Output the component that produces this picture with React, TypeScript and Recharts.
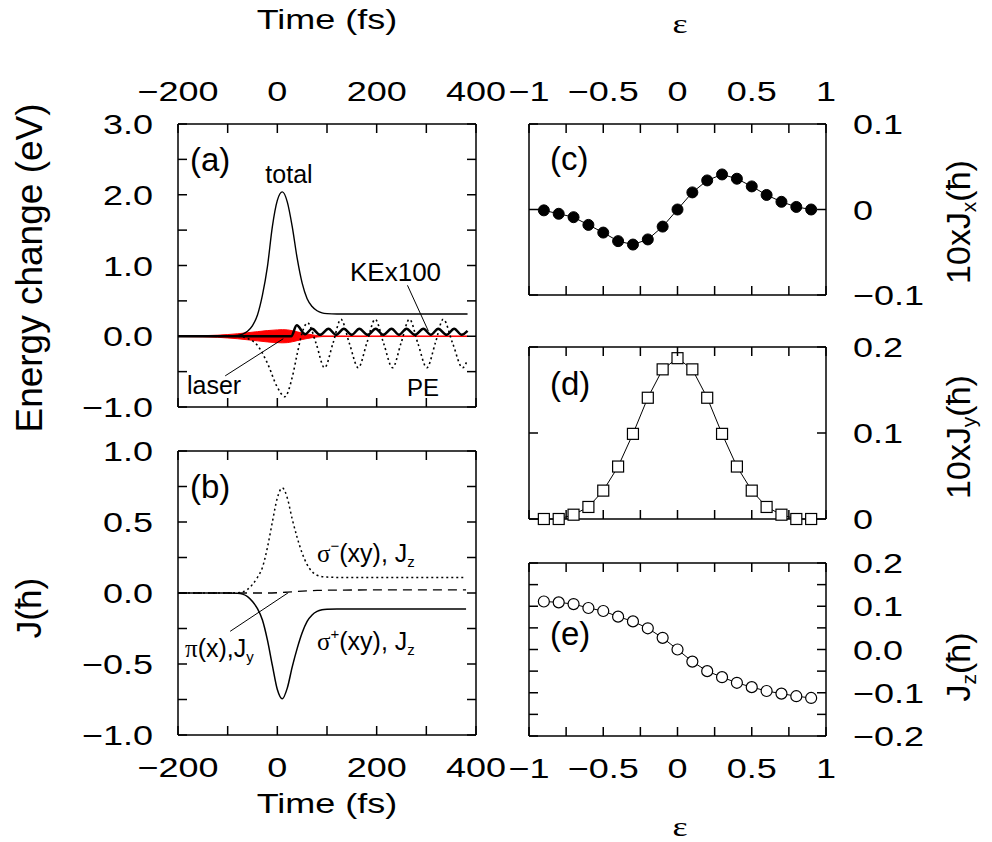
import React from "react"
import { ComposedChart, Line, Area, XAxis, YAxis, ReferenceLine } from "recharts"

const W = 992
const H = 842
const SANS = "'Liberation Sans', Arial, Helvetica, sans-serif"
const SERIF = "'Liberation Serif', 'Times New Roman', serif"
const AXIS = { stroke: "#000", strokeWidth: 1.5 }
const TICK = 9

// ---- panel (a): energy change vs time (fs)
const totalTime = [-200, -100, -80, -70, -60, -50, -40, -30, -20, -10, 0, 10, 20, 30, 40, 50, 60, 70, 80, 90, 100, 120, 150, 250, 383]
const totalE = [0, 0, 0.01, 0.03, 0.07, 0.15, 0.3, 0.58, 0.98, 1.55, 1.92, 2.04, 1.9, 1.55, 1.1, 0.75, 0.53, 0.42, 0.36, 0.33, 0.32, 0.315, 0.315, 0.315, 0.315]

const peTime = [-200, -80, -60, -40, -20, 0, 15, 30, 40, 50, 61, 78, 95, 112, 128, 145, 163, 180, 197, 214, 232, 249, 266, 283, 301, 318, 334, 353, 373, 383]
const peE = [0, 0, -0.03, -0.13, -0.38, -0.72, -0.855, -0.58, -0.25, 0.05, 0.19, -0.1, -0.445, -0.1, 0.24, -0.1, -0.445, -0.1, 0.24, -0.1, -0.445, -0.1, 0.24, -0.1, -0.445, -0.1, 0.24, -0.1, -0.445, -0.33]

const keTime = [-200, 0, 28, 39, 56, 70, 86, 103, 118, 134, 150, 165, 182, 198, 213, 230, 245, 260, 277, 294, 309, 324, 341, 356, 371, 383]
const keE = [0, 0, 0, 0.155, 0.03, 0.105, 0.02, 0.105, 0.02, 0.105, 0.02, 0.105, 0.02, 0.105, 0.02, 0.105, 0.02, 0.105, 0.02, 0.105, 0.02, 0.105, 0.02, 0.105, 0.02, 0.075]

// laser field drawn as its envelope (+/-)
const laserTime = [-200, -150, -120, -100, -80, -60, -40, -20, 0, 10, 20, 30, 40, 50, 60, 70, 80, 90, 100, 383]
const laserAmp = [0.004, 0.008, 0.015, 0.024, 0.035, 0.05, 0.065, 0.08, 0.09, 0.093, 0.09, 0.078, 0.062, 0.046, 0.032, 0.02, 0.01, 0.005, 0.004, 0.004]

// ---- panel (b): angular momentum vs time
const bTime = [-200, -100, -80, -70, -60, -50, -40, -30, -20, -10, 0, 10, 20, 30, 40, 50, 60, 70, 80, 90, 100, 120, 150, 250, 380]
const sigmaMinus = [0, 0, 0.002, 0.008, 0.025, 0.06, 0.11, 0.18, 0.32, 0.5, 0.67, 0.74, 0.67, 0.52, 0.39, 0.28, 0.2, 0.15, 0.125, 0.115, 0.112, 0.11, 0.11, 0.11, 0.11]
const sigmaPlus = [0, 0, -0.002, -0.008, -0.025, -0.06, -0.11, -0.19, -0.33, -0.51, -0.68, -0.745, -0.67, -0.52, -0.39, -0.28, -0.2, -0.155, -0.13, -0.118, -0.114, -0.112, -0.112, -0.112, -0.112]
const piTime = [-200, -20, 0, 20, 40, 60, 80, 100, 150, 250, 380]
const piJ = [0, 0, 0.002, 0.006, 0.011, 0.015, 0.018, 0.02, 0.021, 0.022, 0.022]

// ---- panels (c)-(e): vs epsilon
const eps = [-0.9, -0.8, -0.7, -0.6, -0.5, -0.4, -0.3, -0.2, -0.1, 0, 0.1, 0.2, 0.3, 0.4, 0.5, 0.6, 0.7, 0.8, 0.9]
const jx = [-0.001, -0.005, -0.009, -0.018, -0.027, -0.037, -0.041, -0.035, -0.02, 0, 0.02, 0.034, 0.041, 0.036, 0.027, 0.017, 0.009, 0.003, 0]
const jy = [0, 0, 0.005, 0.014, 0.033, 0.061, 0.099, 0.141, 0.174, 0.187, 0.174, 0.141, 0.099, 0.061, 0.033, 0.014, 0.005, 0, 0]
const jz = [0.111, 0.109, 0.105, 0.096, 0.089, 0.076, 0.065, 0.049, 0.027, 0, -0.028, -0.05, -0.064, -0.077, -0.087, -0.096, -0.102, -0.108, -0.112]

// ---- ticks and labels
const timeTicks = [-200, -100, 0, 100, 200, 300, 400]
const timeLabels: Record<string, string> = { "-200": "−200", "0": "0", "200": "200", "400": "400" }
const epsTicks = [-1, -0.75, -0.5, -0.25, 0, 0.25, 0.5, 0.75, 1]
const epsLabels: Record<string, string> = { "-1": "−1", "-0.5": "−0.5", "0": "0", "0.5": "0.5", "1": "1" }
const aTicks = [-1, -0.5, 0, 0.5, 1, 1.5, 2, 2.5, 3]
const aLabels: Record<string, string> = { "3": "3.0", "2": "2.0", "1": "1.0", "0": "0.0", "-1": "−1.0" }
const bTicks = [-1, -0.75, -0.5, -0.25, 0, 0.25, 0.5, 0.75, 1]
const bLabels: Record<string, string> = { "1": "1.0", "0.5": "0.5", "0": "0.0", "-0.5": "−0.5", "-1": "−1.0" }
const cTicks = [-0.1, 0, 0.1]
const cLabels: Record<string, string> = { "0.1": "0.1", "0": "0", "-0.1": "−0.1" }
const dTicks = [0, 0.1, 0.2]
const dLabels: Record<string, string> = { "0.2": "0.2", "0.1": "0.1", "0": "0" }
const eTicks = [-0.2, -0.15, -0.1, -0.05, 0, 0.05, 0.1, 0.15, 0.2]
const eLabels: Record<string, string> = { "0.2": "0.2", "0.1": "0.1", "0": "0.0", "-0.1": "−0.1", "-0.2": "−0.2" }
const none: Record<string, string> = {}

const rows = (xs: number[], ys: any[]) => xs.map((x, i) => ({ x, v: ys[i] }))

// which side a tick belongs to, from the anchors recharts hands the tick
function sideOf(p: any) {
  if (p.textAnchor === "end") return "left"
  if (p.textAnchor === "start") return "right"
  return p.verticalAnchor === "end" ? "top" : "bottom"
}

// inward tick marks, labels outside the frame
function tickRenderer(labels: any) {
  return (p: any) => {
    const { x, y, payload } = p
    const side = sideOf(p)
    const lab = labels[side][String(payload.value)]
    let x2 = x, y2 = y
    if (side === "bottom") y2 = y - TICK
    if (side === "top") y2 = y + TICK
    if (side === "left") x2 = x + TICK
    if (side === "right") x2 = x - TICK
    let tx = x, ty = y, anchor = "middle"
    if (side === "bottom") ty = y + 42
    if (side === "top") ty = y - 23
    if (side === "left") { tx = x - 25; ty = y + 10; anchor = "end" }
    if (side === "right") { tx = x + 27; ty = y + 10; anchor = "start" }
    return (
      <g>
        <line x1={x} y1={y} x2={x2} y2={y2} stroke="#000" strokeWidth={1.5} />
        {lab ? (
          <text transform={`translate(${tx},${ty}) scale(1,0.78)`} textAnchor={anchor} fontSize={36} fontFamily={SANS} fill="#000">
            {lab}
          </text>
        ) : null}
      </g>
    )
  }
}

// each panel is a full-page chart whose margins put the plot box in place;
// `ghost` is an invisible copy of one series bound to the top/right axes so they get ticks
function Panel(props: any) {
  const [L, T, R, B] = props.box
  const tick = tickRenderer({ top: props.xTop, bottom: props.xBottom, left: props.yLeft, right: props.yRight })
  return (
    <div style={{ position: "absolute", left: 0, top: 0 }}>
      <ComposedChart width={W} height={H} margin={{ top: T - 1, left: L - 1, right: W - R - 1, bottom: H - B - 1 }}>
        <XAxis xAxisId="b" orientation="bottom" type="number" dataKey="x" domain={props.xDomain} ticks={props.xTicks}
          interval={0} height={1} tickSize={0} tickMargin={0} tickLine={false} axisLine={AXIS} tick={tick} />
        <XAxis xAxisId="t" orientation="top" type="number" dataKey="x" domain={props.xDomain} ticks={props.xTicks}
          interval={0} height={1} tickSize={0} tickMargin={0} tickLine={false} axisLine={AXIS} tick={tick} />
        <YAxis yAxisId="l" orientation="left" type="number" domain={props.yDomain} ticks={props.yTicks}
          interval={0} width={1} tickSize={0} tickMargin={0} tickLine={false} axisLine={AXIS} tick={tick} />
        <YAxis yAxisId="r" orientation="right" type="number" domain={props.yDomain} ticks={props.yTicks}
          interval={0} width={1} tickSize={0} tickMargin={0} tickLine={false} axisLine={AXIS} tick={tick} />
        <Line xAxisId="t" yAxisId="r" data={props.ghost} dataKey="v" stroke="none" dot={false} activeDot={false} isAnimationActive={false} />
        {props.series}
      </ComposedChart>
    </div>
  )
}

const ax = { xAxisId: "b", yAxisId: "l" }

const squareDot = (p: any) => (
  <rect key={`sq-${p.index}`} x={p.cx - 5.5} y={p.cy - 5.5} width={11} height={11} fill="#fff" stroke="#000" strokeWidth={1.2} />
)

function Sq({ x, y, anchor = "middle", size = 36, family = SANS, children }: any) {
  return (
    <text transform={`translate(${x},${y}) scale(1,0.78)`} textAnchor={anchor} fontSize={size} fontFamily={family} fill="#000">
      {children}
    </text>
  )
}

function VText({ x, y, size, children }: any) {
  return (
    <text transform={`translate(${x},${y}) rotate(-90)`} textAnchor="middle" fontSize={size} fontFamily={SANS} fill="#000">
      {children}
    </text>
  )
}

export default function App() {
  const totalRows = rows(totalTime, totalE)
  const smRows = rows(bTime, sigmaMinus)
  const jxRows = rows(eps, jx)
  const jyRows = rows(eps, jy)
  const jzRows = rows(eps, jz)

  const seriesA = [
    <Line key="total" {...ax} data={totalRows} dataKey="v" type="monotone" stroke="#000" strokeWidth={1.4} dot={false} activeDot={false} isAnimationActive={false} />,
    <Line key="pe" {...ax} data={rows(peTime, peE)} dataKey="v" type="monotone" stroke="#000" strokeWidth={1.6} strokeDasharray="2 3" dot={false} activeDot={false} isAnimationActive={false} />,
    <Area key="laser" {...ax} data={rows(laserTime, laserAmp.map((a) => [-a, a]))} dataKey="v" type="monotone" stroke="#ff0000" strokeWidth={1} fill="#ff0000" fillOpacity={1} dot={false} activeDot={false} isAnimationActive={false} />,
    <Line key="ke" {...ax} data={rows(keTime, keE)} dataKey="v" type="monotone" stroke="#000" strokeWidth={2.5} dot={false} activeDot={false} isAnimationActive={false} />,
    <ReferenceLine key="l1" {...ax} segment={[{ x: -105, y: -0.56 }, { x: 12, y: -0.035 }]} stroke="#000" strokeWidth={1} />,
    <ReferenceLine key="l2" {...ax} segment={[{ x: 262, y: 0.72 }, { x: 304, y: 0.075 }]} stroke="#000" strokeWidth={1} />,
  ]
  const seriesB = [
    <Line key="sm" {...ax} data={smRows} dataKey="v" type="monotone" stroke="#000" strokeWidth={1.5} strokeDasharray="2 3" dot={false} activeDot={false} isAnimationActive={false} />,
    <Line key="sp" {...ax} data={rows(bTime, sigmaPlus)} dataKey="v" type="monotone" stroke="#000" strokeWidth={1.5} dot={false} activeDot={false} isAnimationActive={false} />,
    <Line key="pi" {...ax} data={rows(piTime, piJ)} dataKey="v" type="monotone" stroke="#000" strokeWidth={1.3} strokeDasharray="9 6" dot={false} activeDot={false} isAnimationActive={false} />,
    <ReferenceLine key="l3" {...ax} segment={[{ x: -95, y: -0.27 }, { x: 22, y: 0.002 }]} stroke="#000" strokeWidth={1} />,
  ]
  const seriesC = [
    <Line key="jx" {...ax} data={jxRows} dataKey="v" type="linear" stroke="#000" strokeWidth={1} dot={{ r: 5.5, fill: "#000", stroke: "#000", strokeWidth: 1 }} activeDot={false} isAnimationActive={false} />,
  ]
  const seriesD = [
    <Line key="jy" {...ax} data={jyRows} dataKey="v" type="linear" stroke="#000" strokeWidth={1} dot={squareDot} activeDot={false} isAnimationActive={false} />,
  ]
  const seriesE = [
    <Line key="jz" {...ax} data={jzRows} dataKey="v" type="linear" stroke="#000" strokeWidth={1} dot={{ r: 5.5, fill: "#fff", stroke: "#000", strokeWidth: 1.2 }} activeDot={false} isAnimationActive={false} />,
  ]

  return (
    <div style={{ position: "absolute", left: 0, top: 0, width: W, height: H, background: "#fff", fontFamily: SANS }}>
      <Panel box={[178, 124, 476, 407]} xDomain={[-200, 400]} xTicks={timeTicks} xTop={timeLabels} xBottom={none}
        yDomain={[-1, 3]} yTicks={aTicks} yLeft={aLabels} yRight={none} series={seriesA} ghost={totalRows} />
      <Panel box={[178, 451, 476, 735]} xDomain={[-200, 400]} xTicks={timeTicks} xTop={none} xBottom={timeLabels}
        yDomain={[-1, 1]} yTicks={bTicks} yLeft={bLabels} yRight={none} series={seriesB} ghost={smRows} />
      <Panel box={[529, 124, 826, 295]} xDomain={[-1, 1]} xTicks={epsTicks} xTop={epsLabels} xBottom={none}
        yDomain={[-0.1, 0.1]} yTicks={cTicks} yLeft={none} yRight={cLabels} series={seriesC} ghost={jxRows} />
      <Panel box={[529, 347, 826, 519]} xDomain={[-1, 1]} xTicks={epsTicks} xTop={none} xBottom={none}
        yDomain={[0, 0.2]} yTicks={dTicks} yLeft={none} yRight={dLabels} series={seriesD} ghost={jyRows} />
      <Panel box={[529, 563, 826, 736]} xDomain={[-1, 1]} xTicks={epsTicks} xTop={none} xBottom={epsLabels}
        yDomain={[-0.2, 0.2]} yTicks={eTicks} yLeft={none} yRight={eLabels} series={seriesE} ghost={jzRows} />

      <svg width={W} height={H} style={{ position: "absolute", left: 0, top: 0, pointerEvents: "none" }}>
        {/* axis titles */}
        <Sq x={327} y={29}>Time (fs)</Sq>
        <Sq x={327} y={813}>Time (fs)</Sq>
        <Sq x={680} y={33} family={SERIF}>ε</Sq>
        <Sq x={680} y={836} family={SERIF}>ε</Sq>
        <VText x={42} y={268} size={37}>Energy change (eV)</VText>
        <VText x={41} y={608} size={35}>J(ħ)</VText>
        <VText x={970} y={222} size={34}>10xJ<tspan fontSize={21} dy={6}>x</tspan><tspan dy={-6}>(ħ)</tspan></VText>
        <VText x={970} y={437} size={34}>10xJ<tspan fontSize={21} dy={6}>y</tspan><tspan dy={-6}>(ħ)</tspan></VText>
        <VText x={970} y={667} size={34}>J<tspan fontSize={21} dy={6}>z</tspan><tspan dy={-6}>(ħ)</tspan></VText>

        {/* panel letters and annotations */}
        <g fontFamily={SANS} fill="#000">
          <text x={190} y={171} fontSize={33}>(a)</text>
          <text x={190} y={498} fontSize={33}>(b)</text>
          <text x={550} y={170} fontSize={33}>(c)</text>
          <text x={550} y={395} fontSize={33}>(d)</text>
          <text x={550} y={645} fontSize={33}>(e)</text>
          <text x={289} y={183} fontSize={25} textAnchor="middle">total</text>
          <text x={350} y={281} fontSize={26}>KEx100</text>
          <text x={407} y={396} fontSize={24}>PE</text>
          <text x={187} y={394} fontSize={25}>laser</text>
          <text x={317} y={562} fontSize={25}>
            <tspan fontFamily={SERIF}>σ</tspan><tspan fontSize={15} dy={-11}>−</tspan><tspan dy={11}>(xy), J</tspan><tspan fontSize={15} dy={5}>z</tspan>
          </text>
          <text x={317} y={650} fontSize={25}>
            <tspan fontFamily={SERIF}>σ</tspan><tspan fontSize={15} dy={-11}>+</tspan><tspan dy={11}>(xy), J</tspan><tspan fontSize={15} dy={5}>z</tspan>
          </text>
          <text x={185} y={657} fontSize={25}>
            <tspan fontFamily={SERIF}>π</tspan>(x),J<tspan fontSize={15} dy={5}>y</tspan>
          </text>
        </g>
      </svg>
    </div>
  )
}
